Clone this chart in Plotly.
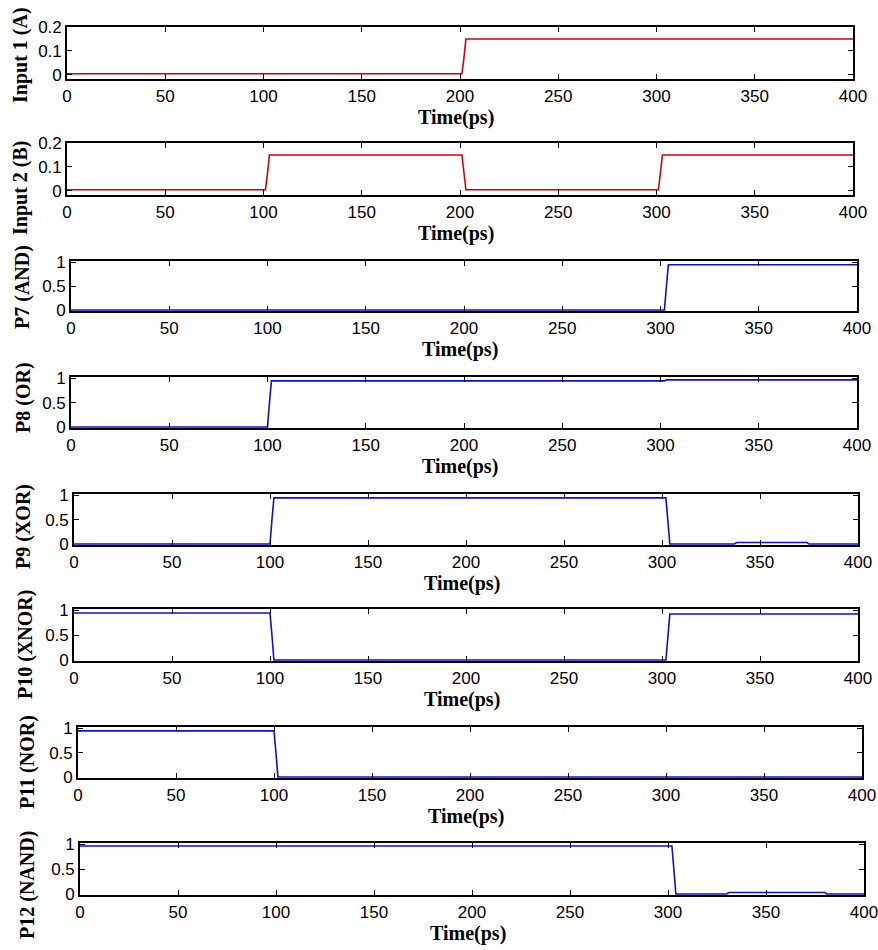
import plotly.graph_objects as go

W, H = 878, 950

# ---- data ----
t_A = [0, 201, 202, 203, 400]
v_A = [0.005, 0.005, 0.07, 0.15, 0.15]

t_B = [0, 101, 102, 103, 201, 202, 203, 301, 302, 303, 400]
v_B = [0.005, 0.005, 0.07, 0.15, 0.15, 0.07, 0.005, 0.005, 0.07, 0.15, 0.15]

t_AND = [0, 302, 303, 304, 400]
v_AND = [0.0, 0.0, 0.5, 0.95, 0.95]

t_OR = [0, 100, 101, 102, 302, 303, 400]
v_OR = [0.0, 0.0, 0.5, 0.95, 0.95, 0.97, 0.97]

t_XOR = [0, 100, 101, 102, 302, 303, 304, 337, 338, 374, 375, 400]
v_XOR = [0.0, 0.0, 0.5, 0.95, 0.95, 0.5, 0.0, 0.0, 0.03, 0.03, 0.0, 0.0]

t_XNOR = [0, 100, 101, 102, 302, 303, 304, 400]
v_XNOR = [0.95, 0.95, 0.5, 0.0, 0.0, 0.5, 0.93, 0.93]

t_NOR = [0, 100, 101, 102, 400]
v_NOR = [0.95, 0.95, 0.5, 0.0, 0.0]

t_NAND = [0, 302, 303, 304, 330, 331, 380, 381, 400]
v_NAND = [0.97, 0.97, 0.5, 0.0, 0.0, 0.03, 0.03, 0.0, 0.0]

x_ticks = [0, 50, 100, 150, 200, 250, 300, 350, 400]
y_ticks_in = [0, 0.1, 0.2]
y_ticks_out = [0, 0.5, 1]
y_labels_in = ["0", "0.1", "0.2"]
y_labels_out = ["0", "0.5", "1"]

labels = ["Input 1 (A)", "Input 2 (B)", "P7 (AND)", "P8 (OR)", "P9 (XOR)",
          "P10 (XNOR)", "P11 (NOR)", "P12 (NAND)"]

series = [(t_A, v_A), (t_B, v_B), (t_AND, v_AND), (t_OR, v_OR), (t_XOR, v_XOR),
          (t_XNOR, v_XNOR), (t_NOR, v_NOR), (t_NAND, v_NAND)]

# ---- layout geometry (page pixels) ----
boxes = [(67, 853, 27, 79), (67, 853, 143, 195), (71, 857, 261, 311),
         (71, 857, 377, 428), (74, 858, 494, 545), (74, 858, 609, 661),
         (78, 862, 727, 778), (80, 864, 843, 895)]
ylab_pos = [(21, 55), (21, 188), (23, 287), (23, 398), (23, 527),
            (25, 645), (27, 762), (27, 885)]


def px(x):
    return x / W


def py(y):
    return 1 - y / H


TITLE_FONT = dict(family="Liberation Serif, Times New Roman", size=20, color="black")
TICK_FONT = dict(family="Liberation Sans, Arial", size=17, color="black")

fig = go.Figure()
annotations = []
for i, ((t, v), (l, r, tp, bt), lab, (lx, ly)) in enumerate(zip(series, boxes, labels, ylab_pos)):
    n = i + 1
    xa = "x" if n == 1 else f"x{n}"
    ya = "y" if n == 1 else f"y{n}"
    color = "#d40000" if i < 2 else "#1010c8"
    fig.add_trace(go.Scatter(x=t, y=v, mode="lines", xaxis=xa, yaxis=ya,
                             line=dict(color=color, width=1.6), showlegend=False,
                             hoverinfo="skip"))
    common = dict(showgrid=False, zeroline=False, showline=True, linecolor="black",
                  linewidth=1.6, mirror="ticks", ticks="inside", ticklen=5,
                  tickwidth=1.4, tickcolor="black", automargin=False,
                  ticklabeloverflow="allow", tickfont=TICK_FONT)
    xkey = "xaxis" if n == 1 else f"xaxis{n}"
    ykey = "yaxis" if n == 1 else f"yaxis{n}"
    fig.layout[xkey] = dict(domain=[px(l), px(r)], anchor=ya, range=[0, 400],
                            tickvals=x_ticks, ticklabelstandoff=1, **common)
    if i < 2:
        yr = [-0.017, 0.2]
        tv, tt = y_ticks_in, y_labels_in
    else:
        yr = [-0.02, 1.03]
        tv, tt = y_ticks_out, y_labels_out
    fig.layout[ykey] = dict(domain=[py(bt), py(tp)], anchor=xa, range=yr,
                            tickvals=tv, ticktext=tt, ticklabelstandoff=0, **common)
    annotations.append(dict(x=px(lx), y=py(ly), xref="paper", yref="paper",
                            text=f"<b>{lab}</b>", textangle=-90, showarrow=False,
                            font=TITLE_FONT, xanchor="center", yanchor="middle"))
    annotations.append(dict(x=px((l + r) / 2 - 4), y=py(bt + 38),
                            xref="paper", yref="paper", text="<b>Time(ps)</b>",
                            showarrow=False, font=TITLE_FONT,
                            xanchor="center", yanchor="middle"))

fig.update_layout(width=W, height=H, margin=dict(l=0, r=0, t=0, b=0, pad=0, autoexpand=False),
                  plot_bgcolor="white", paper_bgcolor="white",
                  annotations=annotations)

fig.write_html("out.html", config={"displayModeBar": False},
               post_script="document.body.style.margin='0';"
                           "document.body.style.overflow='hidden';")
